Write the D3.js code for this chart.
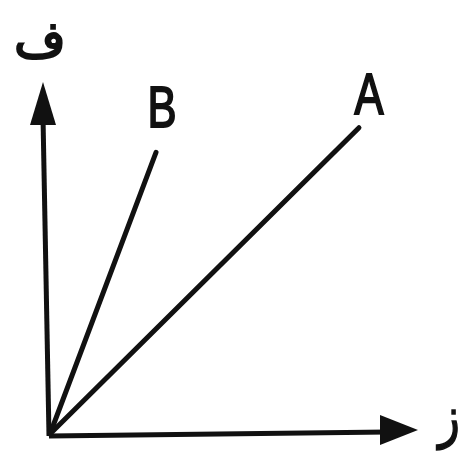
<!DOCTYPE html>
<html>
<head>
<meta charset="utf-8" />
<title>ف - ز</title>
<style>
html, body {
    margin: 0px;
    padding: 0px;
    background: #fff;
}
svg {
    display: block;
}
</style>
</head>
<body>
<svg id="chart" width="463" height="457"></svg>

<script src="https://d3js.org/d3.v7.min.js"></script>
<script>
// data
var lineNames = ["A", "B"]
var lineEndX = [8.4, 2.9]
var lineEndY = [8.7, 8.0]
var axisLabels = ["ز", "ف"]   // x, y
var axisMax = [10, 10]

var width = 463
var height = 457
var origin = {x: 49, y: 434}

var svg = d3.select("#chart")

var xScale = d3.scaleLinear().domain([0, axisMax[0]]).range([origin.x, 418])
var yScale = d3.scaleLinear().domain([0, axisMax[1]]).range([origin.y, 82])

var ink = "#111"

// axes (no ticks, just the arrows)
svg.append("line")
    .attr("x1", xScale(0)).attr("y1", yScale(0) + 2)
    .attr("x2", xScale(axisMax[0]) - 30).attr("y2", yScale(0) - 2)
    .attr("stroke", ink).attr("stroke-width", 5)

svg.append("line")
    .attr("x1", xScale(0)).attr("y1", yScale(0) + 2)
    .attr("x2", xScale(0) - 6).attr("y2", yScale(axisMax[1]) + 35)
    .attr("stroke", ink).attr("stroke-width", 5)

// arrow heads
var xt = [xScale(axisMax[0]), yScale(0) - 4]
svg.append("path")
    .attr("d", "M" + xt[0] + "," + xt[1] +
        "L" + (xt[0] - 38) + "," + (xt[1] - 15) +
        "L" + (xt[0] - 38) + "," + (xt[1] + 15) + "Z")
    .attr("fill", ink)

var yt = [xScale(0) - 6, yScale(axisMax[1])]
svg.append("path")
    .attr("d", "M" + yt[0] + "," + yt[1] +
        "L" + (yt[0] - 13) + "," + (yt[1] + 43) +
        "L" + (yt[0] + 13) + "," + (yt[1] + 43) + "Z")
    .attr("fill", ink)

// lines A and B
var lines = lineNames.map(function(n, i) {
    return {name: n, x: lineEndX[i], y: lineEndY[i]}
})

svg.selectAll(".ray")
    .data(lines)
    .enter().append("line")
    .attr("class", "ray")
    .attr("x1", xScale(0) + 1).attr("y1", yScale(0))
    .attr("x2", function(d) { return xScale(d.x) })
    .attr("y2", function(d) { return yScale(d.y) })
    .attr("stroke", ink)
    .attr("stroke-width", 5)
    .attr("stroke-linecap", "round")

// label nudges, in pixels from the end of each line
var labelNudge = {A: [10, -14], B: [6, -25]}

svg.selectAll(".ray-label")
    .data(lines)
    .enter().append("text")
    .attr("class", "ray-label")
    .attr("transform", function(d) {
        var n = labelNudge[d.name]
        return "translate(" + (xScale(d.x) + n[0]) + "," + (yScale(d.y) + n[1]) + ") scale(0.75,1)"
    })
    .attr("text-anchor", "middle")
    .attr("font-family", "Liberation Sans, Arial, sans-serif")
    .attr("font-size", 58)
    .attr("fill", ink)
    .attr("stroke", ink)
    .attr("stroke-width", 2)
    .text(function(d) { return d.name })

// axis letters
svg.append("text")
    .attr("transform", "translate(449,436) scale(0.8,1)")
    .attr("text-anchor", "middle")
    .attr("font-family", "Noto Sans, DejaVu Sans, sans-serif")
    .attr("font-size", 56)
    .attr("fill", ink)
    .attr("stroke", ink)
    .attr("stroke-width", 1.5)
    .text(axisLabels[0])

svg.append("text")
    .attr("x", 40).attr("y", 57)
    .attr("text-anchor", "middle")
    .attr("font-family", "Noto Sans, DejaVu Sans, sans-serif")
    .attr("font-size", 50)
    .attr("fill", ink)
    .attr("stroke", ink)
    .attr("stroke-width", 2)
    .text(axisLabels[1])
</script>
</body>
</html>
